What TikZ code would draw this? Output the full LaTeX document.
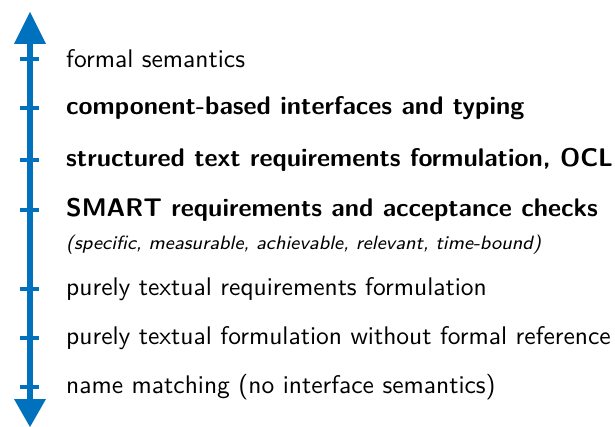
\documentclass[tikz,border=0pt]{standalone}
\renewcommand{\familydefault}{\sfdefault}
\definecolor{axisblue}{RGB}{0,114,189}
\newcommand{\bigtxt}[1]{\scalebox{2.55}{\fontsize{10}{12}\selectfont #1}}
\newcommand{\bigbf}[1]{\scalebox{2.55}{\fontsize{10}{12}\selectfont\bfseries #1}}
\newcommand{\bigit}[1]{\scalebox{2.55}{\fontsize{7.55}{9}\selectfont\itshape #1}}
\tikzset{
  axisline/.style={draw=axisblue, line width=6.5pt},
  tickmark/.style={draw=axisblue, line width=3.5pt},
  headtri/.style={fill=axisblue, draw=none},
  lbl/.style={anchor=west, inner sep=0pt}
}
\begin{document}
\begin{tikzpicture}[x=1pt,y=-1pt]
\useasboundingbox (0,0) rectangle (615,427);
\coordinate (topbase) at (30,44);
\coordinate (botbase) at (30,399);
\draw[axisline] (topbase) -- (botbase);
\fill[headtri] (30,12) -- (46,44) -- (14,44) -- cycle;
\fill[headtri] (30,427) -- (46,399) -- (14,399) -- cycle;
\foreach \y in {59,108,160,210,289,338,387}{
  \draw[tickmark] (20,\y) -- (39,\y);
}
\node[lbl] (t1) at (66,59)  {\bigtxt{formal semantics}};
\node[lbl] (t2) at (66,108) {\bigbf{component-based interfaces and typing}};
\node[lbl] (t3) at (66,160) {\bigbf{structured text requirements formulation, OCL}};
\node[lbl] (t4) at (66,210) {\bigbf{SMART requirements and acceptance checks}};
\node[lbl] (t4b) at (66,245) {\bigit{(specific, measurable, achievable, relevant, time-bound)}};
\node[lbl] (t5) at (66,289) {\bigtxt{purely textual requirements formulation}};
\node[lbl] (t6) at (66,338) {\bigtxt{purely textual formulation without formal reference}};
\node[lbl] (t7) at (66,387) {\bigtxt{name matching (no interface semantics)}};
\end{tikzpicture}
\end{document}
